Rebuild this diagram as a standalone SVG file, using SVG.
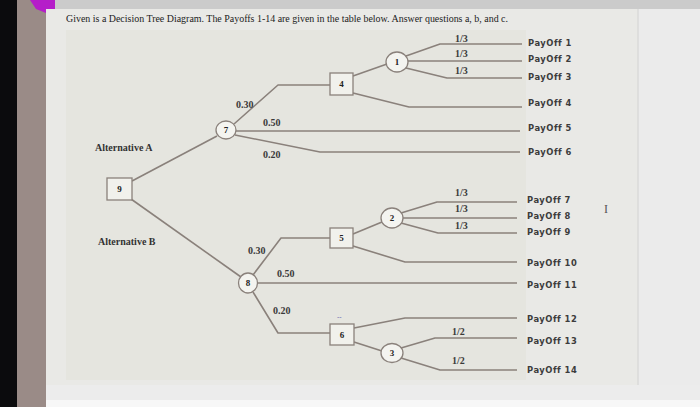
<svg xmlns="http://www.w3.org/2000/svg" width="700" height="407" viewBox="0 0 700 407">
<style>
.ln{fill:none;stroke:#8a817b;stroke-width:1.6;stroke-linejoin:round}
.bx{fill:#f1f1ec;stroke:#8a817b;stroke-width:1.3}
.ci{fill:#f4f4f0;stroke:#8a817b;stroke-width:1.3}
.nn{font-family:"Liberation Serif",serif;font-weight:bold;font-size:9px;fill:#222;text-anchor:middle}
.pr{font-family:"Liberation Serif",serif;font-weight:bold;font-size:10px;fill:#3a3a3a}
.al{font-family:"Liberation Serif",serif;font-weight:bold;font-size:10px;fill:#333}
.po{font-family:"DejaVu Sans",sans-serif;font-weight:bold;font-size:8.4px;fill:#3c3c3c;letter-spacing:0.5px}
.ti{font-family:"Liberation Serif",serif;font-size:10px;fill:#222}
</style>
<rect x="0" y="0" width="700" height="407" fill="#e6e6e4"/>
<rect x="0" y="0" width="17" height="407" fill="#0b0b0d"/>
<rect x="17" y="0" width="29" height="407" fill="#9a8b87"/>
<rect x="46" y="0" width="654" height="9" fill="#cbcbcb"/>
<polygon points="30,0 55,0 55,13 46,13 36,9" fill="#b51ec9"/>
<rect x="46" y="9" width="592" height="391" fill="#e9e9e6"/>
<rect x="638" y="9" width="62" height="391" fill="#ebebeb"/>
<line x1="638" y1="9" x2="638" y2="400" stroke="#d2d2d2" stroke-width="1"/>
<rect x="66" y="30" width="460" height="350" fill="#e5e5df"/>
<rect x="46" y="385" width="654" height="15" fill="#ececec"/>
<rect x="46" y="400" width="654" height="7" fill="#f7f7f7"/>
<text class="ti" x="66" y="22" textLength="442" lengthAdjust="spacingAndGlyphs">Given is a Decision Tree Diagram. The Payoffs 1-14 are given in the table below. Answer questions a, b, and c.</text>
<g id="connectors">
<path class="ln" d="M132,181 L217,136"/>
<path class="ln" d="M234,124 L278,85 L330,85"/>
<path class="ln" d="M236,131 L520,131"/>
<path class="ln" d="M235,135 L320,152 L520,152"/>
<path class="ln" d="M353,76 L387,64"/>
<path class="ln" d="M406,56 L440,44 L522,44"/>
<path class="ln" d="M408,61 L522,61"/>
<path class="ln" d="M406,68 L447,78 L522,78"/>
<path class="ln" d="M353,93 L409,107 L522,107"/>
<path class="ln" d="M131,199 L241,277"/>
<path class="ln" d="M253,275 L281,238 L330,238"/>
<path class="ln" d="M258,283 L517,283"/>
<path class="ln" d="M253,292 L278,333 L330,333"/>
<path class="ln" d="M353,234 L382,222"/>
<path class="ln" d="M401,213 L437,202 L517,202"/>
<path class="ln" d="M403,218 L517,218"/>
<path class="ln" d="M401,223 L438,233 L517,233"/>
<path class="ln" d="M353,246 L405,262 L517,262"/>
<path class="ln" d="M354,328 L405,318 L517,318"/>
<path class="ln" d="M354,342 L382,351"/>
<path class="ln" d="M401,348 L435,338 L517,338"/>
<path class="ln" d="M401,358 L440,370 L517,370"/>
</g>
<g id="node9"><rect class="bx" x="107" y="178" width="25" height="22"/><text class="nn" x="119.5" y="192">9</text></g>
<g id="node7"><ellipse class="ci" cx="226" cy="130" rx="10" ry="9"/><text class="nn" x="226" y="133">7</text></g>
<g id="node4"><rect class="bx" x="330" y="73" width="23" height="22"/><text class="nn" x="341.5" y="87">4</text></g>
<g id="node1"><ellipse class="ci" cx="397" cy="62" rx="11" ry="10"/><text class="nn" x="397" y="65">1</text></g>
<g id="node8"><ellipse class="ci" cx="248" cy="283" rx="9.5" ry="10"/><text class="nn" x="248" y="286">8</text></g>
<g id="node5"><rect class="bx" x="330" y="228" width="23" height="20"/><text class="nn" x="341.5" y="241">5</text></g>
<g id="node2"><ellipse class="ci" cx="392" cy="218" rx="11" ry="10"/><text class="nn" x="392" y="221">2</text></g>
<g id="node6"><rect class="bx" x="330" y="324" width="24" height="21"/><text class="nn" x="342" y="338">6</text></g>
<g id="node3"><ellipse class="ci" cx="392" cy="353" rx="11" ry="9.5"/><text class="nn" x="392" y="356">3</text></g>
<g id="labels">
<text class="al" x="95" y="151">Alternative A</text>
<text class="al" x="98" y="245">Alternative B</text>
<text class="pr" x="236" y="108">0.30</text>
<text class="pr" x="263" y="126">0.50</text>
<text class="pr" x="263" y="158">0.20</text>
<text class="pr" x="455" y="42">1/3</text>
<text class="pr" x="455" y="57">1/3</text>
<text class="pr" x="455" y="74">1/3</text>
<text class="pr" x="455" y="196">1/3</text>
<text class="pr" x="455" y="212">1/3</text>
<text class="pr" x="455" y="229">1/3</text>
<text class="pr" x="248" y="254">0.30</text>
<text class="pr" x="277" y="277">0.50</text>
<text class="pr" x="273" y="314">0.20</text>
<text class="pr" x="452" y="335">1/2</text>
<text class="pr" x="452" y="364">1/2</text>
<text x="337" y="319" font-family="Liberation Sans,sans-serif" font-size="7" fill="#6a6ab0">--</text>
</g>
<g id="payoffs">
<text class="po" x="528" y="46">PayOff 1</text>
<text class="po" x="528" y="62">PayOff 2</text>
<text class="po" x="528" y="80">PayOff 3</text>
<text class="po" x="528" y="106">PayOff 4</text>
<text class="po" x="528" y="131">PayOff 5</text>
<text class="po" x="528" y="155">PayOff 6</text>
<text class="po" x="527" y="203">PayOff 7</text>
<text class="po" x="527" y="219">PayOff 8</text>
<text class="po" x="527" y="235">PayOff 9</text>
<text class="po" x="527" y="266">PayOff 10</text>
<text class="po" x="527" y="288">PayOff 11</text>
<text class="po" x="527" y="322">PayOff 12</text>
<text class="po" x="527" y="344">PayOff 13</text>
<text class="po" x="527" y="373">PayOff 14</text>
</g>
<text x="604" y="213" font-family="Liberation Serif,serif" font-size="12" fill="#555">I</text>
</svg>
